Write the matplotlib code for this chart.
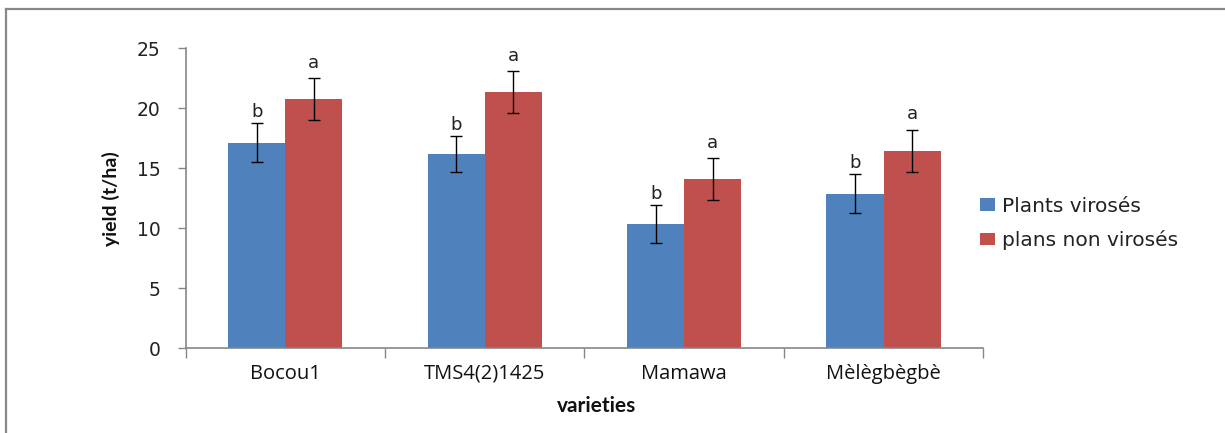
import numpy as np
import matplotlib.pyplot as plt
from matplotlib.lines import Line2D

# yield per variety, diseased vs healthy plants
varieties = ['Bocou1', 'TMS4(2)1425', 'Mamawa', 'Mèlègbègbè']
virosed = [17.15, 16.2, 10.35, 12.9]
virosed_err = [1.6, 1.5, 1.6, 1.6]
healthy = [20.75, 21.35, 14.1, 16.45]
healthy_err = [1.75, 1.75, 1.75, 1.75]
virosed_letters = ['b', 'b', 'b', 'b']
healthy_letters = ['a', 'a', 'a', 'a']
series_names = ['Plants virosés', 'plans non virosés']

blue = '#4f81bd'
red = '#c0504d'
grey = '#868686'

fig = plt.figure(figsize=(12.25, 4.33), dpi=100)
ax = fig.add_axes([185.7 / 1225, 1 - 348.3 / 433, 797.5 / 1225, 300 / 433])

x = np.arange(len(varieties))
w = 0.286
ax.bar(x - w / 2, virosed, w, color=blue, label=series_names[0])
ax.bar(x + w / 2, healthy, w, color=red, label=series_names[1])
ax.errorbar(x - w / 2, virosed, yerr=virosed_err, fmt='none', ecolor='black',
            elinewidth=1, capsize=4.3, capthick=1)
ax.errorbar(x + w / 2, healthy, yerr=healthy_err, fmt='none', ecolor='black',
            elinewidth=1, capsize=4.3, capthick=1)

# significance letters above the error bars
for xi, v, e, s in zip(x - w / 2, virosed, virosed_err, virosed_letters):
    ax.annotate(s, (xi, v + e), xytext=(0, 4.5), textcoords='offset points',
                ha='center', va='baseline', fontsize=13, color='#222222')
for xi, v, e, s in zip(x + w / 2, healthy, healthy_err, healthy_letters):
    ax.annotate(s, (xi, v + e), xytext=(0, 7.5), textcoords='offset points',
                ha='center', va='baseline', fontsize=13, color='#222222')

ax.set_xlim(-0.5, len(varieties) - 0.5)
ax.set_ylim(0, 25)
ax.set_yticks(np.arange(0, 26, 5))
ax.set_xticks(x)
ax.set_xticklabels(varieties, fontfamily='Open Sans', fontsize=14.5, color='#111111')
ax.set_xticks(np.arange(-0.5, len(varieties)), minor=True)
ax.tick_params(axis='x', which='major', length=0, pad=11)
ax.tick_params(axis='x', which='minor', length=7, color=grey, width=1)
ax.tick_params(axis='y', length=6, color=grey, width=1, labelsize=13.5,
               labelcolor='#222222', pad=12)

for side in ['top', 'right']:
    ax.spines[side].set_visible(False)
for side in ['left', 'bottom']:
    ax.spines[side].set_color(grey)
    ax.spines[side].set_linewidth(1.2)

ax.set_ylabel('yield (t/ha)', fontfamily='Lato', fontweight='bold',
              fontsize=14, labelpad=12, color='#111111')
ax.set_xlabel('varieties', fontfamily='Lato', fontweight='bold',
              fontsize=15, color='#111111', va='center')
ax.xaxis.set_label_coords((597 - 185.7) / 797.5, -(406 - 348.3) / 300)

leg = ax.legend(loc='center left', bbox_to_anchor=(980 / 1225, 1 - 223.4 / 433),
                bbox_transform=fig.transFigure, frameon=False, fontsize=14.5,
                handlelength=0.75, handleheight=0.55, handletextpad=0.35,
                labelspacing=0.72, borderpad=0, borderaxespad=0)
for t in leg.get_texts():
    t.set_color('#222222')

# outer chart frame (left and top edges)
fig.add_artist(Line2D([6 / 1225, 6 / 1225], [0, 1 - 9 / 433],
                      transform=fig.transFigure, color='#888888', lw=1.6))
fig.add_artist(Line2D([6 / 1225, 1], [1 - 9 / 433, 1 - 9 / 433],
                      transform=fig.transFigure, color='#888888', lw=1.6))

fig.savefig('out.png', dpi=100)
